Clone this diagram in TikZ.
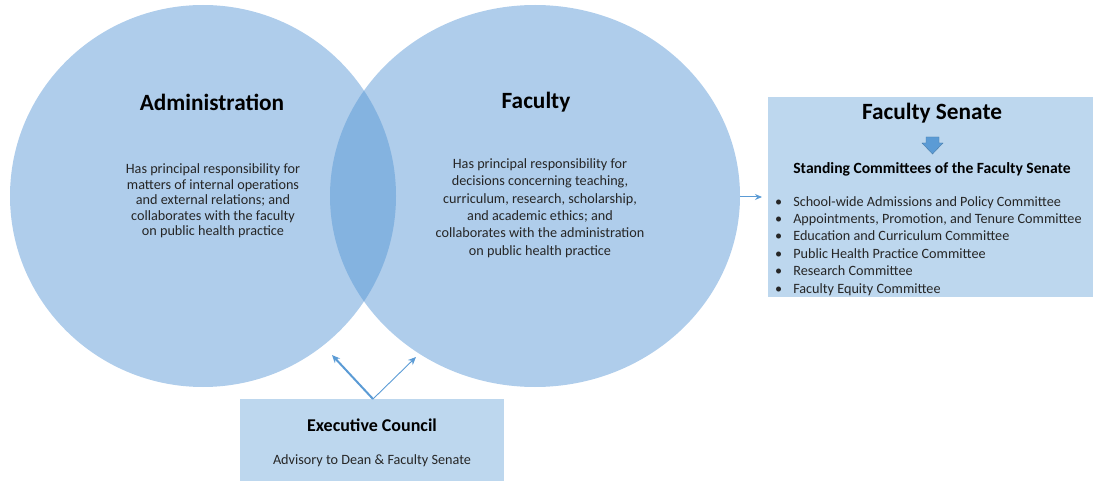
\documentclass[tikz,border=0pt]{standalone}
\usepackage{fontspec}
\setmainfont{Carlito}
\usetikzlibrary{arrows.meta}
\definecolor{circ}{RGB}{175,205,235}
\definecolor{lens}{RGB}{132,179,224}
\definecolor{boxc}{RGB}{189,215,238}
\definecolor{arr}{RGB}{91,155,213}
\tikzset{
  title/.style={font=\fontsize{23.3}{26}\selectfont\bfseries, text=black},
  body/.style={font=\fontsize{14.2}{15.6}\selectfont, align=center, text=black!85},
  bodyw/.style={font=\fontsize{14.2}{17.4}\selectfont, align=center, text=black!85},
  link/.style={draw=arr, -{Stealth[length=8pt,width=7pt]}},
  blockarrow/.style={fill=arr, draw=arr!80!black, line width=0.4pt, line join=miter},
}
\begin{document}
\begin{tikzpicture}[x=1pt,y=-1pt]
\useasboundingbox (0,0) rectangle (1093,481);
% circles
\fill[circ] (203,196) ellipse [x radius=193, y radius=191];
\fill[circ] (535,196) ellipse [x radius=205, y radius=191];
\begin{scope}
  \clip (203,196) ellipse [x radius=193, y radius=191];
  \fill[lens] (535,196) ellipse [x radius=205, y radius=191];
\end{scope}
\coordinate (admin) at (203,196);
\coordinate (fac) at (535,196);
\node[title] (admT) at (212,102) {Administration};
\node[body] (admB) at (213,201) {Has principal responsibility for\\matters of internal operations\\and external relations; and\\collaborates with the faculty\\on public health practice};
\node[title] (facT) at (536,102) {Faculty};
\node[bodyw] (facB) at (540,208) {Has principal responsibility for\\decisions concerning teaching,\\curriculum, research, scholarship,\\and academic ethics; and\\collaborates with the administration\\on public health practice};
% senate box
\fill[boxc] (768,97) rectangle (1093,297);
\node[title] (senT) at (932,113) {Faculty Senate};
\path[blockarrow] (926,137) -- (939,137) -- (939,143) -- (943,143) -- (932.5,154) -- (922,143) -- (926,143) -- cycle;
\node[font=\fontsize{15.6}{18}\selectfont\bfseries] (senS) at (932,169) {Standing Committees of the Faculty Senate};
\node[bodyw, align=left, anchor=north west, inner sep=0pt] (list) at (775,196) {%
\textbullet\hspace{11pt}School-wide Admissions and Policy Committee\\
\textbullet\hspace{11pt}Appointments, Promotion, and Tenure Committee\\
\textbullet\hspace{11pt}Education and Curriculum Committee\\
\textbullet\hspace{11pt}Public Health Practice Committee\\
\textbullet\hspace{11pt}Research Committee\\
\textbullet\hspace{11pt}Faculty Equity Committee};
\coordinate (senL) at (762,197);
\coordinate (facR) at (740,197);
\draw[draw=arr, line width=1pt, -{Stealth[length=7pt,width=6pt]}] (facR) -- (senL);
% executive council
\fill[boxc] (240,399) rectangle (504,481);
\node[font=\fontsize{18}{20}\selectfont\bfseries] (exT) at (372,425) {Executive Council};
\node[body] (exB) at (372,461) {Advisory to Dean \& Faculty Senate};
\coordinate (ex) at (373,399);
\coordinate (exL) at (332,355);
\coordinate (exR) at (416,357);
\draw[link, line width=2pt] (ex) -- (exL);
\draw[link, line width=0.9pt] (ex) -- (exR);
\end{tikzpicture}
\end{document}
